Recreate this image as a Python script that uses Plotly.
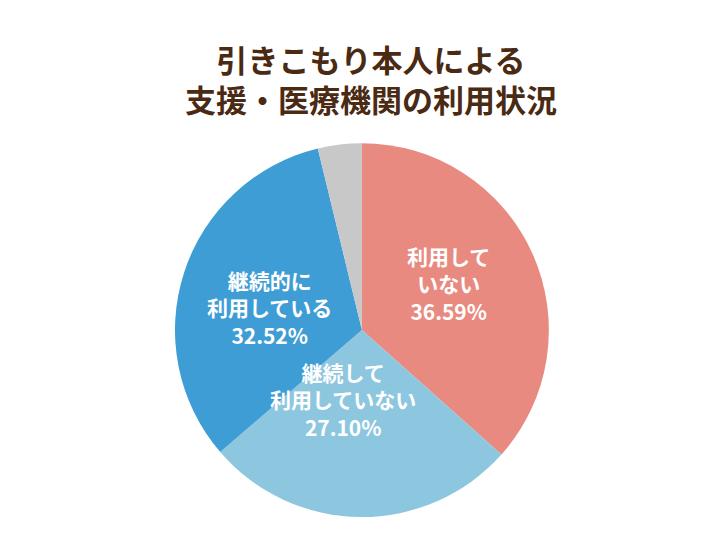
import plotly.graph_objects as go

labels = ["利用していない", "継続して利用していない", "継続的に利用している", "その他"]
values = [36.59, 27.10, 32.52, 3.79]
colors = ["#E98A80", "#8DC7DF", "#3F9DD5", "#C8C8C8"]
label_text = ["利用して<br>いない<br>36.59%", "継続して<br>利用していない<br>27.10%",
              "継続的に<br>利用している<br>32.52%"]
label_pos = [(0.607, 0.495), (0.462, 0.2), (0.36, 0.45)]

fig = go.Figure(go.Pie(
    labels=labels, values=values, sort=False, direction="clockwise", rotation=0,
    marker=dict(colors=colors, line=dict(color="white", width=0)),
    textinfo="none", hoverinfo="label+percent", showlegend=False,
    domain=dict(x=[0.23, 0.745], y=[0.066, 0.752]),
))

for txt, (x, y) in zip(label_text, label_pos):
    fig.add_annotation(text="<b>" + txt + "</b>", x=x, y=y, xref="paper", yref="paper",
                       showarrow=False, align="center",
                       font=dict(family="Noto Sans CJK JP", size=21, color="white"))

fig.add_annotation(text="<b>引きこもり本人による<br>支援・医療機関の利用状況</b>",
                   x=0.5, y=0.87, xref="paper", yref="paper", showarrow=False,
                   align="center", yanchor="middle",
                   font=dict(family="Noto Sans CJK JP", size=31, color="#4A2A12"))

fig.update_layout(width=726, height=545, margin=dict(l=0, r=0, t=0, b=0),
                  paper_bgcolor="white", plot_bgcolor="white")
fig.write_html("out.html")
